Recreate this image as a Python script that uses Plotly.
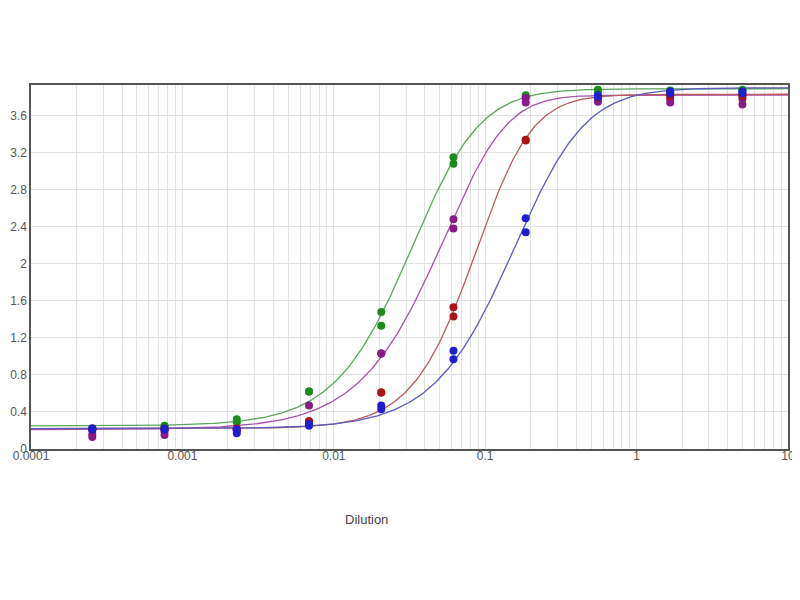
import numpy as np
import plotly.graph_objects as go

# Dilution series (x) and duplicate OD readings per series
dilution = [5/3**k for k in range(9, -1, -1)]

green_r1 = [0.22, 0.25, 0.32, 0.62, 1.48, 3.15, 3.82, 3.88, 3.87, 3.88]
green_r2 = [0.21, 0.24, 0.29, 0.62, 1.33, 3.08, 3.80, 3.86, 3.85, 3.87]
purple_r1 = [0.16, 0.19, 0.21, 0.47, 1.03, 2.48, 3.79, 3.79, 3.78, 3.78]
purple_r2 = [0.13, 0.15, 0.20, 0.30, 1.03, 2.38, 3.74, 3.75, 3.74, 3.72]
red_r1 = [0.22, 0.22, 0.22, 0.30, 0.61, 1.53, 3.34, 3.80, 3.82, 3.82]
red_r2 = [0.21, 0.21, 0.21, 0.28, 0.61, 1.43, 3.33, 3.79, 3.81, 3.81]
blue_r1 = [0.22, 0.22, 0.21, 0.27, 0.47, 1.06, 2.49, 3.82, 3.86, 3.86]
blue_r2 = [0.21, 0.21, 0.17, 0.25, 0.43, 0.97, 2.34, 3.80, 3.84, 3.84]

# 5PL fit parameters: bottom, top, c, hill slope, asymmetry
fit_green = (0.25, 3.89, 0.0428, 1.62, 1.5)
fit_purple = (0.21, 3.82, 0.1186, 1.41, 3.0)
fit_red = (0.22, 3.83, 0.108, 1.96, 1.5)
fit_blue = (0.22, 3.90, 0.205, 1.55, 1.5)

series = [
    ("green", green_r1, green_r2, fit_green, "#1c8a1c", "#5aa55a"),
    ("purple", purple_r1, purple_r2, fit_purple, "#871a87", "#a652a6"),
    ("red", red_r1, red_r2, fit_red, "#aa1414", "#b85a5a"),
    ("blue", blue_r1, blue_r2, fit_blue, "#1f1fd0", "#5a5ac0"),
]

def five_pl(x, p):
    a, d, c, b, g = p
    return d - (d - a) / (1 + (x / c) ** b) ** g

xs = np.logspace(-4, 1, 400)

fig = go.Figure()
for name, r1, r2, p, mcol, lcol in series:
    fig.add_trace(go.Scatter(x=xs, y=five_pl(xs, p), mode="lines",
                             line=dict(color=lcol, width=1.3), showlegend=False, hoverinfo="skip"))
for name, r1, r2, p, mcol, lcol in series:
    fig.add_trace(go.Scatter(x=dilution + dilution, y=r1 + r2, mode="markers",
                             marker=dict(color=mcol, size=8), showlegend=False, name=name))

major_text = ["0.0001", "0.001", "0.01", "0.1", "1", "10"]
tickvals, ticktext = [], []
for e in range(-4, 1):
    for m in range(1, 10):
        tickvals.append(m * 10.0 ** e)
        ticktext.append(major_text[e + 4] if m == 1 else "")
tickvals.append(10)
ticktext.append("10")

yticks = [0, 0.4, 0.8, 1.2, 1.6, 2, 2.4, 2.8, 3.2, 3.6]

# page body adds an 8px offset; figure is sized to fit the window
L, R, T, B = 23, 12, 77, 143
W, H = 792, 584
fig.update_layout(
    width=W, height=H,
    margin=dict(l=L, r=R, t=T, b=B, autoexpand=False),
    paper_bgcolor="white", plot_bgcolor="white",
    font=dict(family="Liberation Sans, Arial, sans-serif", size=12, color="#444"),
    xaxis=dict(type="log", range=[-4, 1], tickvals=tickvals, ticktext=ticktext,
               showgrid=True, gridcolor="#e2e2e2", gridwidth=1, automargin=False,
               showline=True, linecolor="#555", linewidth=1.5, mirror=True,
               ticks="", zeroline=False, ticklabeloverflow="allow",
               ticklabelstandoff=-5,
               tickfont=dict(size=12, color="#555")),
    yaxis=dict(range=[0, 3.93], tickvals=yticks, ticktext=[str(v) for v in yticks],
               showgrid=True, gridcolor="#e2e2e2", gridwidth=1, automargin=False,
               showline=True, linecolor="#555", linewidth=1.5, mirror=True,
               ticks="", zeroline=False, tickfont=dict(size=12, color="#555")),
    annotations=[dict(text="Dilution", x=(366 - 31) / 757, y=(441 - 510) / 356,
                      xref="paper", yref="paper", xanchor="center", yanchor="middle",
                      showarrow=False, font=dict(size=13, color="#444"))],
)

fig.write_html("out.html")
